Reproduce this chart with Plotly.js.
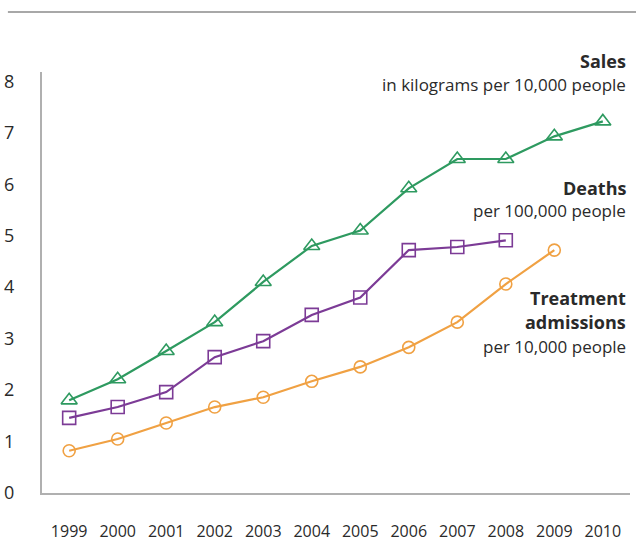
<!DOCTYPE html>
<html>
<head>
<meta charset="utf-8">
<script src="https://cdn.plot.ly/plotly-3.0.1.min.js"></script>
<style>html,body{margin:0;padding:0;background:#fff;}#chart{width:636px;height:546px;}</style>
</head>
<body>
<div id="chart"></div>
<script>
const years = [1999, 2000, 2001, 2002, 2003, 2004, 2005, 2006, 2007, 2008, 2009, 2010];
const sales = [1.8, 2.21, 2.76, 3.32, 4.1, 4.8, 5.1, 5.92, 6.49, 6.49, 6.93, 7.22];
const deathYears = [1999, 2000, 2001, 2002, 2003, 2004, 2005, 2006, 2007, 2008];
const deaths = [1.46, 1.67, 1.96, 2.64, 2.95, 3.46, 3.8, 4.72, 4.78, 4.91];
const treatYears = [1999, 2000, 2001, 2002, 2003, 2004, 2005, 2006, 2007, 2008, 2009];
const treatment = [0.82, 1.05, 1.36, 1.67, 1.86, 2.17, 2.45, 2.83, 3.32, 4.06, 4.72];
const yTicks = [0, 1, 2, 3, 4, 5, 6, 7, 8];

const FONT = '"Open Sans", Lato, sans-serif';
const TXT = '#2a2a2a';

const traces = [
  {x: treatYears, y: treatment, name: 'Treatment admissions', mode: 'lines+markers',
   line: {color: '#f0a143', width: 2.2},
   marker: {symbol: 'circle-open', size: 12, color: '#f0a143', line: {width: 1.6}}},
  {x: deathYears, y: deaths, name: 'Deaths', mode: 'lines+markers',
   line: {color: '#7c3b96', width: 2.2},
   marker: {symbol: 'square-open', size: 13, color: '#7c3b96', line: {width: 1.6}}},
  {x: years, y: sales, name: 'Sales', mode: 'lines+markers',
   line: {color: '#2e9a60', width: 2.2},
   marker: {symbol: 'triangle-up-open', size: 14, color: '#2e9a60', line: {width: 1.6}}}
];

function ann(text, y, size, bold) {
  return {xref: 'paper', yref: 'paper', x: 0.9966, y: y, xanchor: 'right', yanchor: 'middle',
    showarrow: false, align: 'right',
    text: bold ? '<b>' + text + '</b>' : text,
    font: {family: FONT, size: size, color: TXT}};
}

const layout = {
  width: 636, height: 546,
  margin: {l: 42, r: 6, t: 72, b: 53},
  paper_bgcolor: '#ffffff', plot_bgcolor: '#ffffff',
  showlegend: false,
  font: {family: FONT, color: TXT},
  xaxis: {
    range: [1998.44, 2010.56], tickmode: 'array', tickvals: years,
    ticktext: years.map(String), showgrid: false, zeroline: false,
    showline: true, linecolor: '#b0b0b0', linewidth: 2,
    ticks: '', ticklabelstandoff: 23,
    tickfont: {family: FONT, size: 16, color: TXT}
  },
  yaxis: {
    range: [0, 8.18], tickmode: 'array', tickvals: yTicks,
    showgrid: false, zeroline: false,
    showline: true, linecolor: '#b0b0b0', linewidth: 2,
    ticks: '', ticklabelstandoff: 22,
    tickfont: {family: FONT, size: 18, color: TXT}
  },
  shapes: [
    {type: 'line', xref: 'paper', yref: 'paper', x0: -0.058, x1: 1.02, y0: 1.1425, y1: 1.1425,
     line: {color: '#a8a8a8', width: 2}}
  ],
  annotations: [
    ann('Sales', 1.027, 18, true),
    ann('in kilograms per 10,000 people', 0.9705, 17, false),
    ann('Deaths', 0.7255, 18, true),
    ann('per 100,000 people', 0.671, 17, false),
    ann('Treatment', 0.462, 18, true),
    ann('admissions', 0.405, 18, true),
    ann('per 10,000 people', 0.348, 17, false)
  ]
};

Plotly.newPlot('chart', traces, layout, {displayModeBar: false, staticPlot: true});
</script>
</body>
</html>
